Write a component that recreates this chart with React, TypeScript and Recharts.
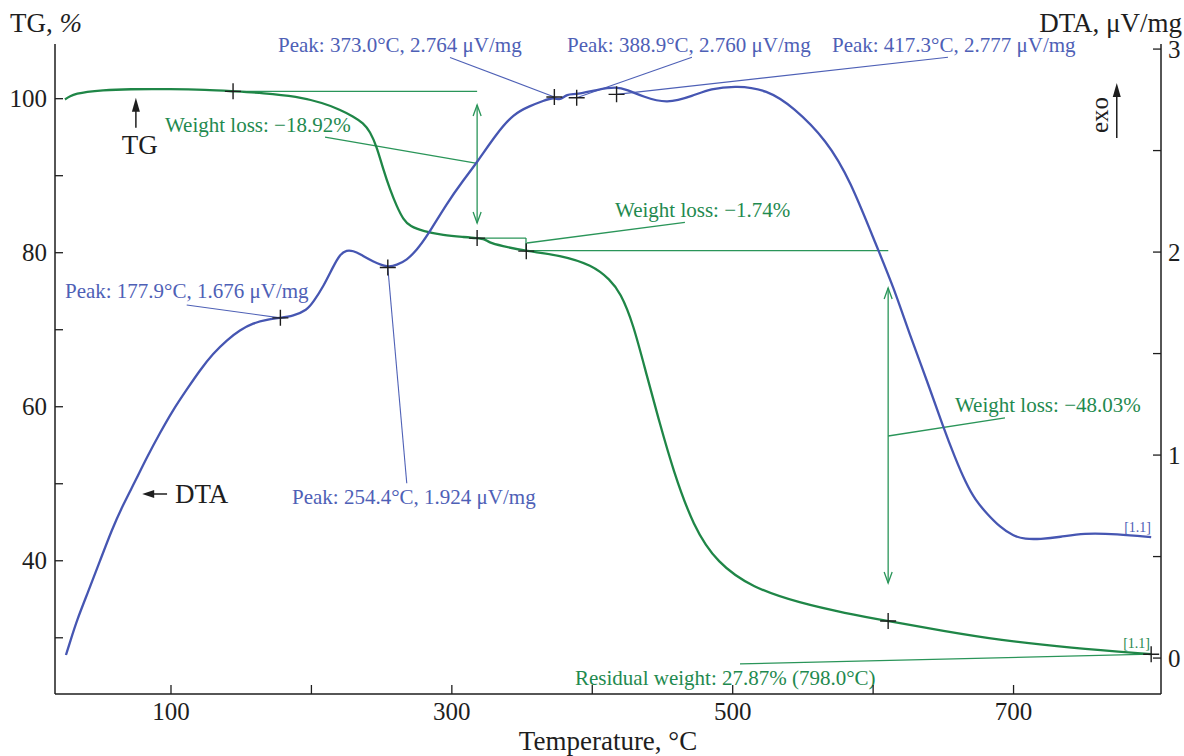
import React from 'react';
import { ComposedChart, Line, XAxis, YAxis, ReferenceLine, ReferenceDot, Label } from 'recharts';

// TG curve, temperature (°C) and weight (%)
const tgTemp = [24.5, 28, 33, 40, 50, 70, 100, 125, 144.2, 165.7, 189.5, 208.5, 220.4, 229.8, 237, 241.7, 246.5, 251.2, 256, 260.8, 265.5, 270.2, 279.7, 293.9, 308.2, 318, 324, 326, 335, 353, 377, 400, 412.7, 420, 429, 439, 448, 457.5, 472, 489, 514, 548, 580, 610.7, 650, 690, 740, 798];
const tgWeight = [99.9, 100.35, 100.65, 100.9, 101.1, 101.25, 101.25, 101.15, 100.95, 100.74, 100.3, 99.44, 98.57, 97.7, 96.84, 95.75, 93.8, 90.78, 88.18, 86.0, 84.29, 83.42, 82.77, 82.25, 82.04, 81.9, 81.75, 81.35, 80.9, 80.2, 79.7, 78.4, 76.5, 74.8, 70.9, 63.9, 57.9, 51.8, 44.4, 39.7, 36.5, 34.5, 33.2, 32.17, 30.9, 29.7, 28.7, 27.87];

// DTA curve, temperature (°C) and signal (µV/mg)
const dtaTemp = [25.2, 28.1, 33, 40.9, 49.4, 58, 65.8, 74.6, 82.9, 92.2, 101.4, 111.4, 120.7, 129.9, 139.9, 149.1, 158.4, 168.4, 177.9, 186.9, 196.9, 201.4, 208.5, 215.6, 220.4, 225.1, 229.8, 234.6, 244, 254.4, 260.7, 267.9, 275, 282.1, 296.4, 308.3, 317.7, 332, 343.8, 355.7, 365.2, 373, 377, 381.8, 388.9, 403.2, 417.4, 424.6, 436.4, 453, 472, 483.9, 502.9, 524.3, 543.2, 567, 583.6, 602.6, 614.4, 626.4, 638.2, 649.9, 658.4, 665.7, 672.7, 681.3, 690.4, 699.7, 708.2, 718.9, 733.2, 749.6, 773.8, 798];
const dtaSignal = [0.015, 0.079, 0.187, 0.325, 0.478, 0.635, 0.754, 0.872, 0.99, 1.11, 1.222, 1.325, 1.419, 1.5, 1.567, 1.616, 1.65, 1.667, 1.676, 1.685, 1.714, 1.755, 1.83, 1.93, 1.99, 2.01, 2.006, 1.99, 1.952, 1.924, 1.936, 1.96, 2.01, 2.075, 2.24, 2.355, 2.44, 2.585, 2.68, 2.72, 2.745, 2.764, 2.745, 2.78, 2.775, 2.8, 2.815, 2.8, 2.765, 2.73, 2.77, 2.805, 2.82, 2.8, 2.715, 2.55, 2.355, 2.026, 1.83, 1.586, 1.37, 1.138, 0.985, 0.867, 0.778, 0.709, 0.645, 0.601, 0.586, 0.586, 0.596, 0.616, 0.611, 0.596];

const xTicks = [100, 200, 300, 400, 500, 600, 700];
const xLabels = [100, 300, 500, 700];
const tgTicks = [30, 40, 50, 60, 70, 80, 90, 100];
const tgLabels = [40, 60, 80, 100];
const dtaTicks = [0, 0.5, 1, 1.5, 2, 2.5, 3];
const dtaLabels = [0, 1, 2, 3];

// marked points
const tgMarks = [[144.2, 100.95], [318, 81.9], [353, 80.2], [610.7, 32.17], [798, 27.87]];
const dtaMarks = [[177.9, 1.676], [254.4, 1.924], [373.0, 2.764], [388.9, 2.76], [417.3, 2.777]];

// annotation lines in data units [t1, v1, t2, v2]
const tgLines = [
  [144.2, 100.95, 318, 100.95],
  [318, 99.18, 318, 83.86],
  [209.7, 95.02, 318, 91.61],
  [318, 81.9, 352.8, 81.9],
  [352.8, 81.9, 352.8, 80.2],
  [353, 80.26, 610.8, 80.26],
  [353.5, 81.26, 466, 83.95],
  [610.7, 75.42, 610.7, 37.11],
  [610.7, 56.2, 693.9, 58.54],
  [505.2, 26.6, 798, 27.87],
];
const dtaLines = [
  [111.2, 1.739, 177.9, 1.676],
  [254.4, 1.924, 267.9, 0.861],
  [298.7, 2.9585, 373.0, 2.764],
  [471.0, 2.9595, 388.9, 2.76],
  [653.3, 2.9595, 417.3, 2.777],
];
const arrowsUp = [[318, 99.18], [610.7, 75.42]];
const arrowsDown = [[318, 83.86], [610.7, 37.11]];

const tgNotes = [
  { t: 95.7, v: 95.67, text: 'Weight loss: \u221218.92%' },
  { t: 416.2, v: 84.64, text: 'Weight loss: \u22121.74%' },
  { t: 658.3, v: 59.32, text: 'Weight loss: \u221248.03%' },
  { t: 387.7, v: 23.87, text: 'Residual weight: 27.87% (798.0\u00b0C)' },
];
const dtaNotes = [
  { t: 24.5, v: 1.775, text: 'Peak: 177.9\u00b0C, 1.676 \u03bcV/mg' },
  { t: 186.2, v: 0.759, text: 'Peak: 254.4\u00b0C, 1.924 \u03bcV/mg' },
  { t: 176.2, v: 2.9856, text: 'Peak: 373.0\u00b0C, 2.764 \u03bcV/mg' },
  { t: 382.0, v: 2.9856, text: 'Peak: 388.9\u00b0C, 2.760 \u03bcV/mg' },
  { t: 570.7, v: 2.9856, text: 'Peak: 417.3\u00b0C, 2.777 \u03bcV/mg' },
];

const tgRows = tgTemp.map((t, i) => ({ t, w: tgWeight[i] }));
const dtaRows = dtaTemp.map((t, i) => ({ t, s: dtaSignal[i] }));

const serif = '"Liberation Serif", "Times New Roman", serif';
const ink = '#1e1e1e';
const green = '#1f8647';
const greenThin = '#2a9559';
const greenText = '#1f8a4f';
const blue = '#4656b2';
const blueText = '#4e60b6';

const BottomTick = (p: any) => (
  <g>
    <line x1={p.x} x2={p.x} y1={p.y} y2={p.y - 9} stroke={ink} strokeWidth={1.3} />
    {xLabels.includes(p.payload.value) && (
      <text x={p.x} y={p.y + 26} textAnchor="middle" fontSize={25} fontFamily={serif} fill={ink}>{p.payload.value}</text>
    )}
  </g>
);
const LeftTick = (p: any) => (
  <g>
    <line x1={p.x} x2={p.x + 8} y1={p.y} y2={p.y} stroke={ink} strokeWidth={1.3} />
    {tgLabels.includes(p.payload.value) && (
      <text x={p.x - 8} y={p.y} dy="0.34em" textAnchor="end" fontSize={25} fontFamily={serif} fill={ink}>{p.payload.value}</text>
    )}
  </g>
);
const RightTick = (p: any) => (
  <g>
    <line x1={p.x - 8} x2={p.x} y1={p.y} y2={p.y} stroke={ink} strokeWidth={1.3} />
    {dtaLabels.includes(p.payload.value) && (
      <text x={p.x + 7} y={p.y} dy="0.34em" textAnchor="start" fontSize={25} fontFamily={serif} fill={ink}>{p.payload.value}</text>
    )}
  </g>
);

const Plus = (p: any) => (
  <path d={`M${p.cx - 8},${p.cy}H${p.cx + 8}M${p.cx},${p.cy - 8}V${p.cy + 8}`} stroke={ink} strokeWidth={1.4} fill="none" />
);
const OpenUp = (p: any) => (
  <path d={`M${p.cx - 4},${p.cy + 11}L${p.cx},${p.cy}L${p.cx + 4},${p.cy + 11}`} stroke={greenThin} strokeWidth={1.3} fill="none" />
);
const OpenDown = (p: any) => (
  <path d={`M${p.cx - 4},${p.cy - 11}L${p.cx},${p.cy}L${p.cx + 4},${p.cy - 11}`} stroke={greenThin} strokeWidth={1.3} fill="none" />
);
const SolidUp = (p: any) => (
  <path d={`M${p.cx},${p.cy}L${p.cx - 4},${p.cy + 14}L${p.cx + 4},${p.cy + 14}Z`} fill={ink} />
);
const SolidLeft = (p: any) => (
  <path d={`M${p.cx},${p.cy}L${p.cx + 12},${p.cy - 4}L${p.cx + 12},${p.cy + 4}Z`} fill={ink} />
);

const note = (text: string, color: string, size: number, anchor = 'start') => (p: any) => (
  <text x={p.cx} y={p.cy} textAnchor={anchor} fontSize={size} fontFamily={serif} fill={color}>{text}</text>
);

export default function App() {
  return (
    <div style={{ position: 'absolute', left: 0, top: 0, width: 1184, height: 756, background: '#fff' }}>
      <ComposedChart width={1184} height={756} margin={{ top: 44, right: 0, bottom: 0, left: 0 }}>
        <XAxis
          dataKey="t" type="number" domain={[17.4, 805]} allowDataOverflow ticks={xTicks} interval={0}
          height={62} tickSize={0} tickMargin={0} tick={BottomTick} tickLine={false}
          axisLine={{ stroke: ink, strokeWidth: 1.5 }}
        >
          <Label content={(p: any) => (
            <text x={p.viewBox.x + p.viewBox.width / 2} y={p.viewBox.y + 56} textAnchor="middle" fontSize={27} fontFamily={serif} fill={ink}>
              Temperature, °C
            </text>
          )} />
        </XAxis>
        <YAxis
          yAxisId="tg" orientation="left" domain={[22.7, 107.1]} allowDataOverflow ticks={tgTicks} interval={0}
          width={55} tickSize={0} tickMargin={0} tick={LeftTick} tickLine={false}
          axisLine={{ stroke: ink, strokeWidth: 1.5 }}
        >
          <Label content={(p: any) => (
            <text x={p.viewBox.x + 10} y={p.viewBox.y - 12} fontSize={27} fontFamily={serif} fill={ink}>
              TG, <tspan fontStyle="italic">%</tspan>
            </text>
          )} />
        </YAxis>
        <YAxis
          yAxisId="dta" orientation="right" domain={[-0.177, 3.025]} allowDataOverflow ticks={dtaTicks} interval={0}
          width={23} tickSize={0} tickMargin={0} tick={RightTick} tickLine={false}
          axisLine={{ stroke: ink, strokeWidth: 1.5 }}
        >
          <Label content={(p: any) => (
            <text x={p.viewBox.x + p.viewBox.width - 2} y={p.viewBox.y - 12} textAnchor="end" fontSize={27} fontFamily={serif} fill={ink}>
              DTA, μV/mg
            </text>
          )} />
        </YAxis>

        {tgLines.map((s, i) => (
          <ReferenceLine key={`tgl${i}`} yAxisId="tg" ifOverflow="visible" stroke={greenThin} strokeWidth={1.3}
            segment={[{ x: s[0], y: s[1] }, { x: s[2], y: s[3] }]} />
        ))}
        {dtaLines.map((s, i) => (
          <ReferenceLine key={`dtl${i}`} yAxisId="dta" ifOverflow="visible" stroke={blueText} strokeWidth={1.1}
            segment={[{ x: s[0], y: s[1] }, { x: s[2], y: s[3] }]} />
        ))}
        {/* shafts of the TG, DTA and exo pointers */}
        <ReferenceLine yAxisId="tg" ifOverflow="visible" stroke={ink} strokeWidth={1.5}
          segment={[{ x: 75.0, y: 96.23 }, { x: 75.0, y: 99.5 }]} />
        <ReferenceLine yAxisId="tg" ifOverflow="visible" stroke={ink} strokeWidth={1.5}
          segment={[{ x: 84, y: 48.67 }, { x: 97.2, y: 48.67 }]} />
        <ReferenceLine yAxisId="dta" ifOverflow="visible" stroke={ink} strokeWidth={1.5}
          segment={[{ x: 773.5, y: 2.562 }, { x: 773.5, y: 2.8 }]} />

        <Line data={tgRows} dataKey="w" yAxisId="tg" type="basis" stroke={green} strokeWidth={2.3}
          dot={false} activeDot={false} isAnimationActive={false} />
        <Line data={dtaRows} dataKey="s" yAxisId="dta" type="basis" stroke={blue} strokeWidth={2.3}
          dot={false} activeDot={false} isAnimationActive={false} />

        {arrowsUp.map((a, i) => (
          <ReferenceDot key={`au${i}`} yAxisId="tg" x={a[0]} y={a[1]} r={0} ifOverflow="visible" shape={OpenUp} />
        ))}
        {arrowsDown.map((a, i) => (
          <ReferenceDot key={`ad${i}`} yAxisId="tg" x={a[0]} y={a[1]} r={0} ifOverflow="visible" shape={OpenDown} />
        ))}
        <ReferenceDot yAxisId="tg" x={75.0} y={100.13} r={0} ifOverflow="visible" shape={SolidUp} />
        <ReferenceDot yAxisId="tg" x={79.5} y={48.67} r={0} ifOverflow="visible" shape={SolidLeft} />
        <ReferenceDot yAxisId="dta" x={773.5} y={2.833} r={0} ifOverflow="visible" shape={SolidUp} />

        {tgMarks.map((m, i) => (
          <ReferenceDot key={`tm${i}`} yAxisId="tg" x={m[0]} y={m[1]} r={0} ifOverflow="visible" shape={Plus} />
        ))}
        {dtaMarks.map((m, i) => (
          <ReferenceDot key={`dm${i}`} yAxisId="dta" x={m[0]} y={m[1]} r={0} ifOverflow="visible" shape={Plus} />
        ))}

        {tgNotes.map((n, i) => (
          <ReferenceDot key={`tn${i}`} yAxisId="tg" x={n.t} y={n.v} r={0} ifOverflow="visible" shape={note(n.text, greenText, 21)} />
        ))}
        {dtaNotes.map((n, i) => (
          <ReferenceDot key={`dn${i}`} yAxisId="dta" x={n.t} y={n.v} r={0} ifOverflow="visible" shape={note(n.text, blueText, 21)} />
        ))}
        <ReferenceDot yAxisId="tg" x={797.2} y={28.67} r={0} ifOverflow="visible" shape={note('[1.1]', greenText, 14, 'end')} />
        <ReferenceDot yAxisId="dta" x={797.9} y={0.6225} r={0} ifOverflow="visible" shape={note('[1.1]', blueText, 14, 'end')} />

        <ReferenceDot yAxisId="tg" x={77.7} y={92.82} r={0} ifOverflow="visible" shape={note('TG', ink, 27, 'middle')} />
        <ReferenceDot yAxisId="tg" x={102.8} y={47.46} r={0} ifOverflow="visible" shape={note('DTA', ink, 27)} />
        <ReferenceDot yAxisId="dta" x={762.6} y={2.675} r={0} ifOverflow="visible" shape={(p: any) => (
          <text x={p.cx} y={p.cy} dy="0.25em" textAnchor="middle" fontSize={25} fontFamily={serif} fill={ink}
            transform={`rotate(-90 ${p.cx} ${p.cy})`}>exo</text>
        )} />
      </ComposedChart>
    </div>
  );
}
